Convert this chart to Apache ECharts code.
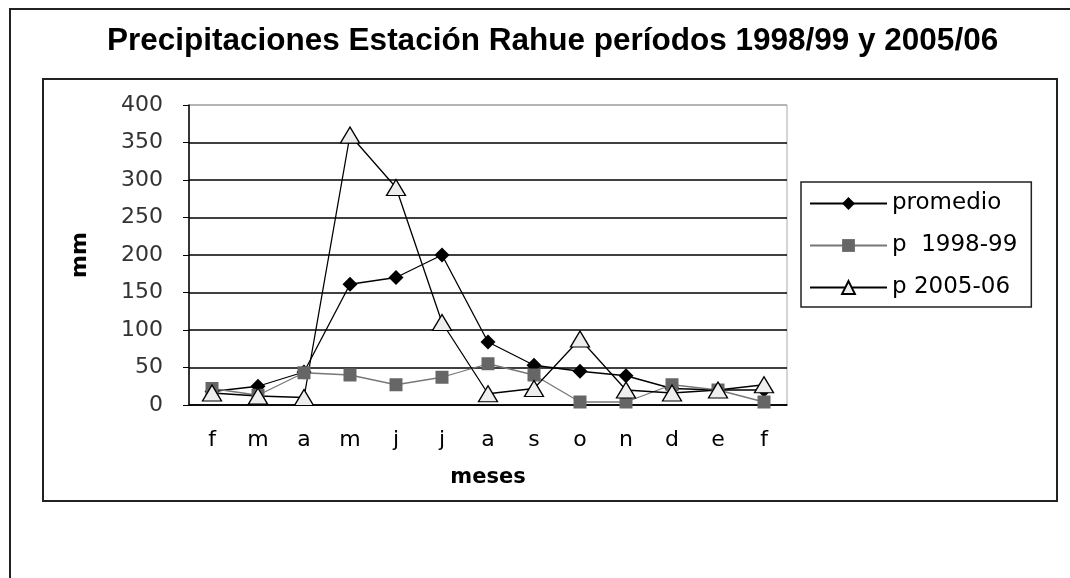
<!DOCTYPE html>
<html>
<head>
<meta charset="utf-8">
<script src="https://cdn.jsdelivr.net/npm/echarts@6/dist/echarts.min.js"></script>
<style>
  html, body { margin: 0; padding: 0; background: #fff; }
  #chart { width: 1070px; height: 578px; }
</style>
</head>
<body>
<div id="chart"></div>
<script>
  // meses (feb a feb)
  var meses = ['f', 'm', 'a', 'm', 'j', 'j', 'a', 's', 'o', 'n', 'd', 'e', 'f'];
  var promedio = [18, 25, 44, 161, 170, 200, 84, 53, 45, 39, 22, 20, 20];
  var p9899 = [22, 13, 43, 40, 27, 37, 55, 40, 4, 4, 27, 20, 4];
  var p0506 = [16, 12, 10, 360, 290, 110, 15, 22, 88, 20, 16, 20, 27];

  var font = 'DejaVu Sans';
  var myChart = echarts.init(document.getElementById('chart'));

  var option = {
    animation: false,
    backgroundColor: '#fff',
    title: {
      text: 'Precipitaciones Estación Rahue períodos 1998/99 y 2005/06',
      left: 102,
      top: 20,
      textStyle: {
        fontFamily: 'Liberation Sans',
        fontWeight: 'bold',
        fontSize: 31.5,
        color: '#000'
      }
    },
    graphic: [
      {
        type: 'rect',
        shape: {x: 10, y: 9, width: 1100, height: 620},
        style: {fill: 'none', stroke: '#222', lineWidth: 2},
        silent: true
      },
      {
        type: 'rect',
        shape: {x: 43, y: 79, width: 1014, height: 422},
        style: {fill: 'none', stroke: '#222', lineWidth: 2},
        silent: true
      }
    ],
    legend: {
      orient: 'vertical',
      left: 801,
      top: 182,
      padding: [10, 14, 8, 8],
      itemGap: 19,
      itemWidth: 77,
      itemHeight: 16,
      borderColor: '#222',
      borderWidth: 1.5,
      textStyle: {fontFamily: font, fontSize: 23, color: '#000'},
      data: ['promedio', 'p  1998-99', 'p 2005-06']
    },
    grid: {
      left: 189,
      right: 283,
      top: 105,
      bottom: 173,
      show: true,
      borderColor: '#aaa',
      borderWidth: 1
    },
    xAxis: {
      type: 'category',
      data: meses,
      name: 'meses',
      nameLocation: 'middle',
      nameGap: 62,
      nameTextStyle: {fontFamily: font, fontWeight: 'bold', fontSize: 21, color: '#000'},
      axisLine: {lineStyle: {color: '#000', width: 1.5}},
      axisTick: {length: 6, lineStyle: {color: '#000'}},
      axisLabel: {fontFamily: font, fontSize: 22, color: '#000', margin: 24}
    },
    yAxis: {
      type: 'value',
      min: 0,
      max: 400,
      interval: 50,
      name: 'mm',
      nameLocation: 'middle',
      nameGap: 98,
      nameRotate: 90,
      nameTextStyle: {fontFamily: font, fontWeight: 'bold', fontSize: 22, color: '#000'},
      axisLine: {show: true, lineStyle: {color: '#000', width: 1.5}},
      axisTick: {show: true, length: 6, lineStyle: {color: '#000'}},
      axisLabel: {fontFamily: font, fontSize: 22, color: '#333', margin: 26},
      splitLine: {
        lineStyle: {
          color: ['#000', '#000', '#000', '#000', '#000', '#000', '#000', '#000', '#aaa'],
          width: 1.5
        }
      }
    },
    series: [
      {
        name: 'promedio',
        type: 'line',
        data: promedio,
        symbol: 'diamond',
        symbolSize: 15,
        lineStyle: {color: '#000', width: 1.3},
        itemStyle: {color: '#000'}
      },
      {
        name: 'p  1998-99',
        type: 'line',
        data: p9899,
        symbol: 'rect',
        symbolSize: 13,
        lineStyle: {color: '#777', width: 1.3},
        itemStyle: {color: '#666'}
      },
      {
        name: 'p 2005-06',
        type: 'line',
        data: p0506,
        symbol: 'triangle',
        symbolSize: [19, 16],
        lineStyle: {color: '#000', width: 1.3},
        itemStyle: {color: '#eee', borderColor: '#000', borderWidth: 1.3}
      }
    ]
  };

  if (option && typeof option === 'object') {
    myChart.setOption(option, true);
  }
</script>
</body>
</html>
